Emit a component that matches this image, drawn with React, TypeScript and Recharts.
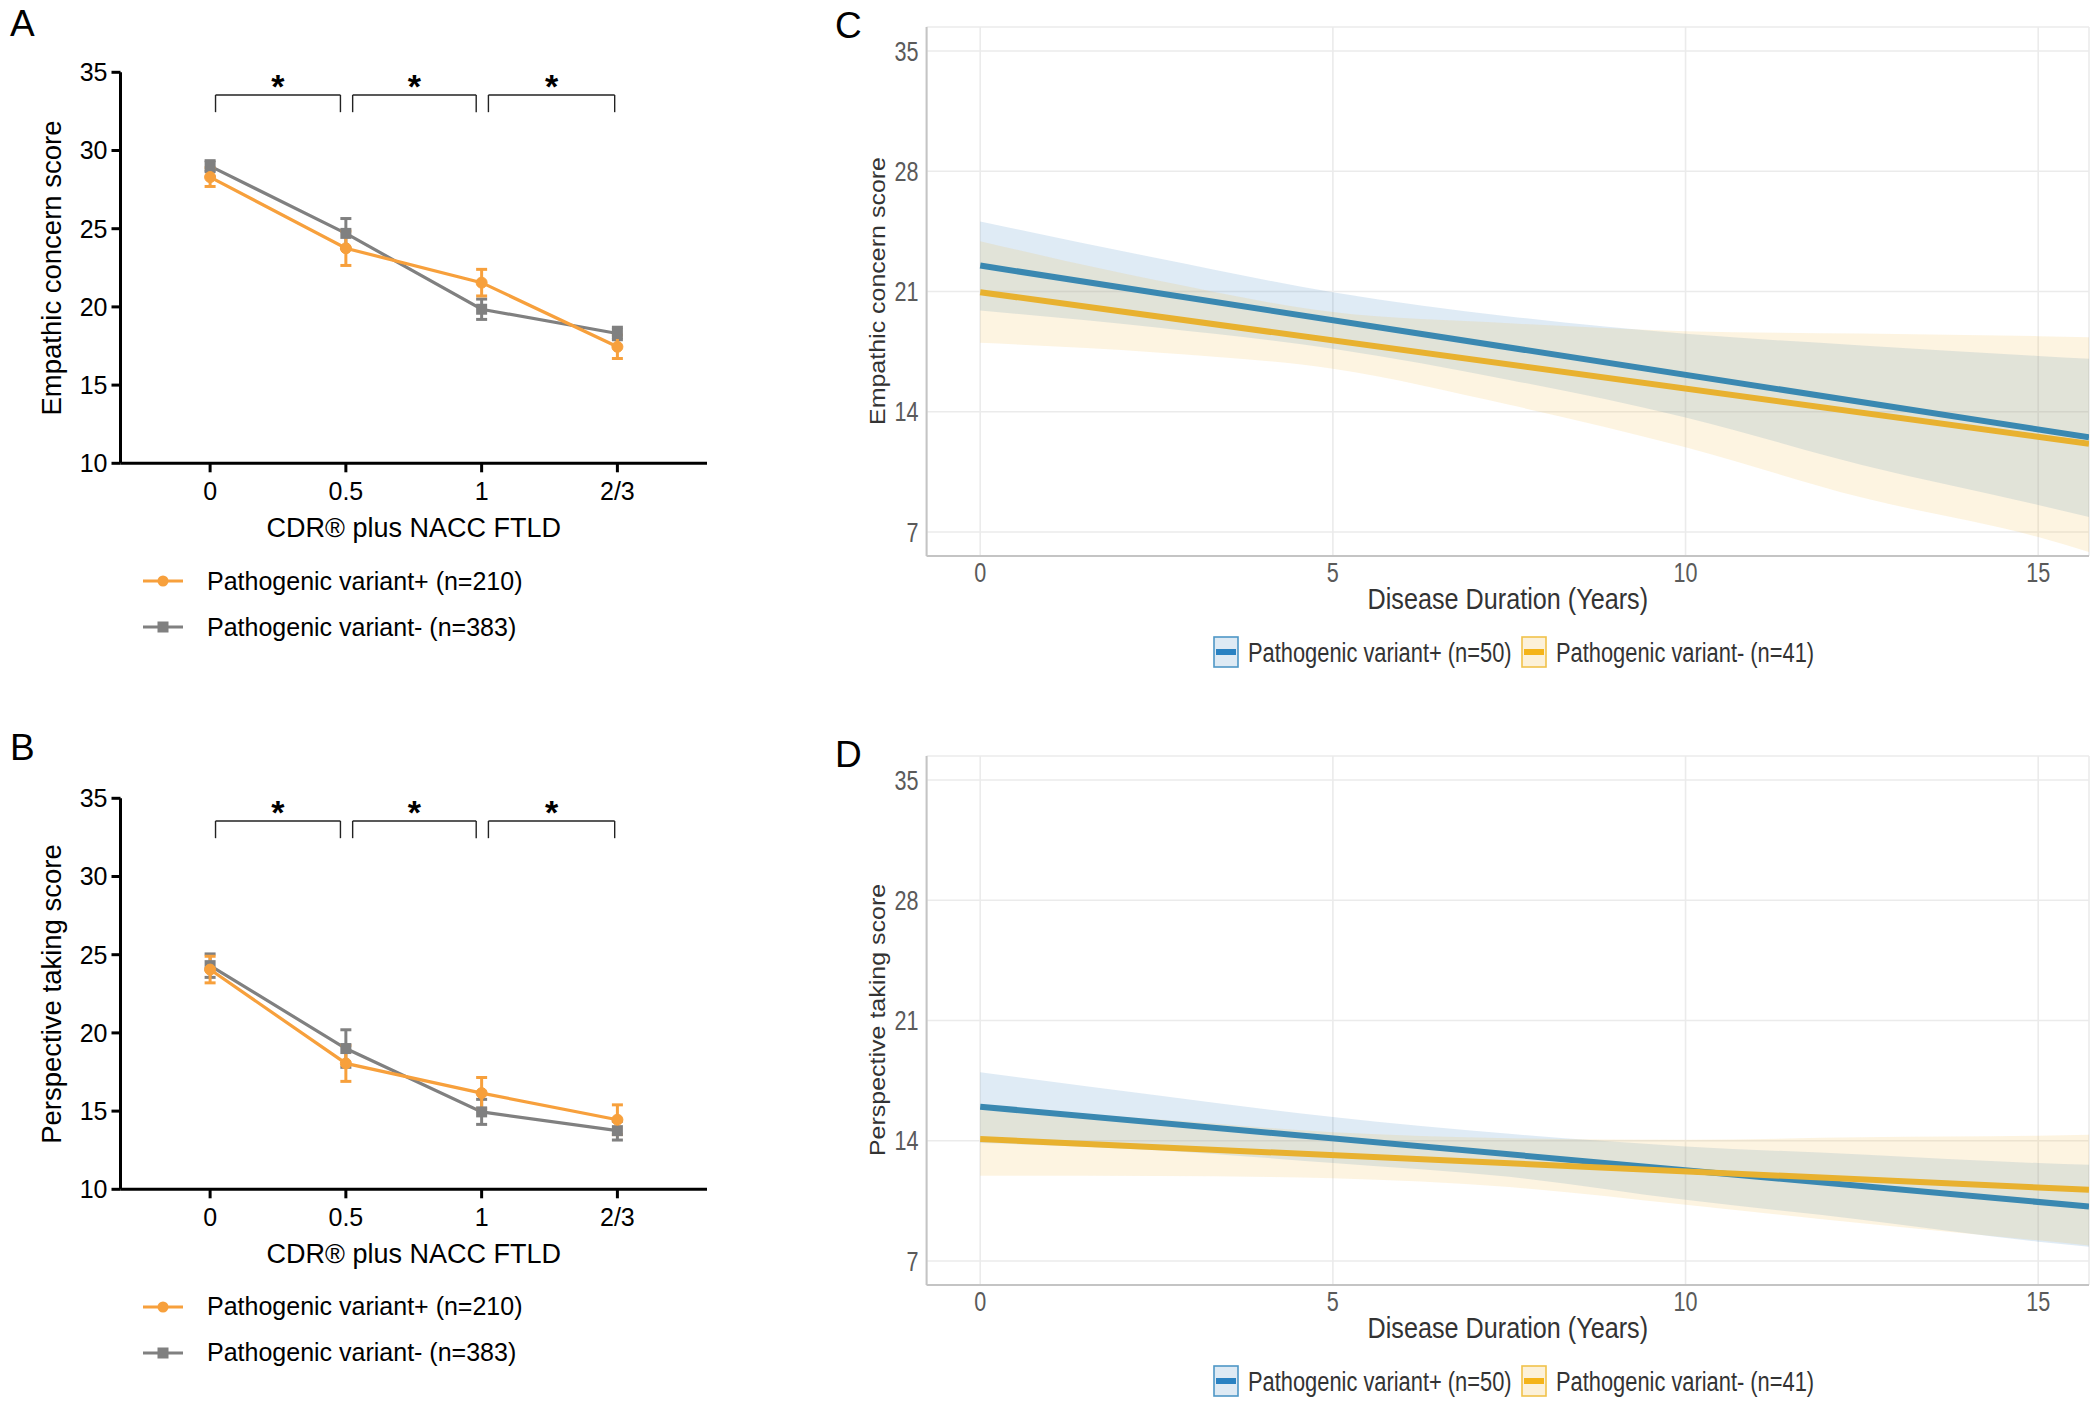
import React from 'react';
import {
  LineChart, Line, XAxis, YAxis, ErrorBar, ReferenceLine, ReferenceDot, Legend,
  ComposedChart, Area, CartesianGrid,
} from 'recharts';

const FONT = "'Liberation Sans', Arial, Helvetica, sans-serif";

// ---------- Panels A & B (CDR plus NACC FTLD) ----------
const cdrCategories = ['0', '0.5', '1', '2/3'];
const cdrTicks = [0, 1, 2, 3];
const leftScoreTicks = [10, 15, 20, 25, 30, 35];

const ecPositive = [28.3, 23.75, 21.55, 17.45];
const ecPositiveErr = [0.6, 1.1, 0.85, 0.75];
const ecNegative = [29.0, 24.7, 19.85, 18.3];
const ecNegativeErr = [0.35, 0.95, 0.65, 0.4];

const ptPositive = [24.05, 18.05, 16.15, 14.45];
const ptPositiveErr = [0.85, 1.15, 1.0, 0.95];
const ptNegative = [24.3, 19.0, 14.95, 13.75];
const ptNegativeErr = [0.75, 1.2, 0.8, 0.6];

const bracketStart = [0.04, 1.05, 2.05];
const bracketEnd = [0.96, 1.96, 2.98];
const bracketTop = 33.55;
const bracketFoot = 32.45;
const starLevel = 34.15;
const starMarks = ['*', '*', '*'];

const legendAB = ['Pathogenic variant+ (n=210)', 'Pathogenic variant- (n=383)'];

// ---------- Panels C & D (Disease duration) ----------
const durationTicks = [0, 5, 10, 15];
const rightScoreTicks = [7, 14, 21, 28, 35];
const fitX = [0, 15.72];
const bandX = [0, 2.5, 5, 7.5, 10, 12.5, 15, 15.72];

const ecFitPos = [22.51, 12.51];
const ecFitNeg = [20.96, 12.13];
const ecBandPosLow = [19.89, 18.9, 17.66, 15.85, 13.67, 10.9, 8.57, 7.87];
const ecBandPosHigh = [25.08, 22.95, 20.96, 19.55, 18.54, 17.86, 17.25, 17.08];
const ecBandNegLow = [18.01, 17.45, 16.5, 14.4, 11.93, 9.0, 6.7, 5.83];
const ecBandNegHigh = [23.93, 21.65, 19.8, 19.15, 18.69, 18.55, 18.4, 18.34];

const ptFitPos = [15.98, 10.17];
const ptFitNeg = [14.1, 11.14];
const ptBandPosLow = [13.87, 13.45, 12.7, 11.9, 10.56, 9.4, 8.12, 7.83];
const ptBandPosHigh = [17.98, 16.65, 15.38, 14.4, 13.67, 13.2, 12.7, 12.6];
const ptBandNegLow = [11.96, 11.95, 11.82, 11.3, 10.27, 9.2, 8.2, 7.9];
const ptBandNegHigh = [15.9, 15.25, 14.5, 14.15, 14.06, 14.2, 14.29, 14.35];

const legendCD = ['Pathogenic variant+ (n=50)', 'Pathogenic variant- (n=41)'];

// ---------- colours ----------
const ORANGE = '#F7A03C';
const GREY = '#808080';
const BLUE_LINE = '#3A88B1';
const GOLD_LINE = '#E8B12F';
const BLUE_FILL = '#2A7ABC';
const GOLD_FILL = '#F2B637';

// ---------- table builders ----------
function cdrRows(pos: number[], posErr: number[], neg: number[], negErr: number[]) {
  return cdrCategories.map((c, i) => ({
    x: i, cat: c, pos: pos[i], posErr: posErr[i], neg: neg[i], negErr: negErr[i],
  }));
}

function durationRows(
  posFit: number[], negFit: number[],
  posLo: number[], posHi: number[], negLo: number[], negHi: number[],
) {
  return bandX.map((x, i) => {
    const f = fitX.indexOf(x);
    return {
      x,
      posBand: [posLo[i], posHi[i]],
      negBand: [negLo[i], negHi[i]],
      posFit: f >= 0 ? posFit[f] : null,
      negFit: f >= 0 ? negFit[f] : null,
    };
  });
}

const ecRows = cdrRows(ecPositive, ecPositiveErr, ecNegative, ecNegativeErr);
const ptRows = cdrRows(ptPositive, ptPositiveErr, ptNegative, ptNegativeErr);
const ecDurRows = durationRows(ecFitPos, ecFitNeg, ecBandPosLow, ecBandPosHigh, ecBandNegLow, ecBandNegHigh);
const ptDurRows = durationRows(ptFitPos, ptFitNeg, ptBandPosLow, ptBandPosHigh, ptBandNegLow, ptBandNegHigh);

// ---------- small renderers ----------
const SquareDot = (p: any) => {
  if (p.cx == null || p.cy == null) return <g key={`sq-${p.index}`} />;
  return <rect key={`sq-${p.index}`} x={p.cx - 5.5} y={p.cy - 5.5} width={11} height={11} fill={GREY} />;
};

const ABLegend = () => (
  <div style={{ width: 520, fontFamily: FONT }}>
    {legendAB.map((name, i) => (
      <div key={name} style={{ display: 'flex', alignItems: 'center', height: 46 }}>
        <svg width={40} height={20} style={{ display: 'block' }}>
          <line x1={0} y1={10} x2={40} y2={10} stroke={i === 0 ? ORANGE : GREY} strokeWidth={3.2} />
          {i === 0
            ? <circle cx={20} cy={10} r={5.5} fill={ORANGE} />
            : <rect x={14.5} y={4.5} width={11} height={11} fill={GREY} />}
        </svg>
        <span style={{ marginLeft: 24, fontSize: 25, color: '#000', whiteSpace: 'nowrap' }}>{name}</span>
      </div>
    ))}
  </div>
);

const SQ_TICK = 0.8;
const SQ_LEG = 0.81;

const RightYTick = (props: any) => {
  const { x, y, payload } = props;
  return (
    <text transform={`translate(${x},${y}) scale(${SQ_TICK},1)`} x={0} y={0} textAnchor="end" dy="0.355em"
      fontSize={27} fill="#5a5a5a">{payload.value}</text>
  );
};

const RightXTick = (props: any) => {
  const { x, y, payload } = props;
  return (
    <text transform={`translate(${x},${y}) scale(${SQ_TICK},1)`} x={0} y={0} textAnchor="middle" dy="0.716em"
      fontSize={27} fill="#5a5a5a">{payload.value}</text>
  );
};

const CDLegend = () => {
  const keys = [
    { fill: '#DEEAF4', border: '#4E97C6', line: '#2A82C2', tx: 0 },
    { fill: '#FCF1D9', border: '#F0C24A', line: '#F4B41A', tx: 308 },
  ];
  return (
    <svg width={640} height={40} style={{ display: 'block', overflow: 'visible' }}>
      {keys.map((k, i) => (
        <g key={i}>
          <rect x={k.tx + 1} y={4} width={24} height={30} fill={k.fill} stroke={k.border} strokeWidth={1.6} />
          <line x1={k.tx + 3} y1={19} x2={k.tx + 23} y2={19} stroke={k.line} strokeWidth={6} />
          <text transform={`translate(${k.tx + 35},19) scale(${SQ_LEG},1)`} x={0} y={0} dy="0.355em"
            fontSize={27} fill="#333">{legendCD[i]}</text>
        </g>
      ))}
    </svg>
  );
};

// ---------- panels ----------
function CdrPanel({ rows, yTitle }: { rows: any[]; yTitle: string }) {
  return (
    <LineChart width={720} height={700} data={rows} margin={{ top: 72.3, right: 13, left: 40.5, bottom: 146.7 }}>
      <XAxis
        type="number" dataKey="x" domain={[-0.66, 3.66]} ticks={cdrTicks} allowDataOverflow
        tickFormatter={(v: number) => cdrCategories[v]} height={90}
        axisLine={{ stroke: '#000', strokeWidth: 3 }} tickLine={{ stroke: '#000', strokeWidth: 3 }}
        tickSize={9} tickMargin={10} tick={{ fontSize: 25, fill: '#000' }}
        label={() => (
          <text x={413.75} y={527.6} textAnchor="middle" dy="0.355em" fontSize={27} fill="#000">
            CDR® plus NACC FTLD
          </text>
        )}
      />
      <YAxis
        type="number" domain={[10, 35]} ticks={leftScoreTicks} allowDataOverflow width={80}
        axisLine={{ stroke: '#000', strokeWidth: 3 }} tickLine={{ stroke: '#000', strokeWidth: 3 }}
        tickSize={9} tickMargin={4} tick={{ fontSize: 25, fill: '#000' }}
        label={() => (
          <text x={51} y={268} transform="rotate(-90 51 268)" textAnchor="middle" dy="0.355em" fontSize={27.5} fill="#000">
            {yTitle}
          </text>
        )}
      />
      {bracketStart.map((s, i) => (
        <ReferenceLine key={`bl${i}`} segment={[{ x: s, y: bracketFoot }, { x: s, y: bracketTop }]} stroke="#222" strokeWidth={1.4} />
      ))}
      {bracketStart.map((s, i) => (
        <ReferenceLine key={`bt${i}`} segment={[{ x: s, y: bracketTop }, { x: bracketEnd[i], y: bracketTop }]} stroke="#222" strokeWidth={1.4} />
      ))}
      {bracketEnd.map((e, i) => (
        <ReferenceLine key={`br${i}`} segment={[{ x: e, y: bracketTop }, { x: e, y: bracketFoot }]} stroke="#222" strokeWidth={1.4} />
      ))}
      {starMarks.map((m, i) => (
        <ReferenceDot key={`st${i}`} x={(bracketStart[i] + bracketEnd[i]) / 2} y={starLevel} r={0}
          fill="none" stroke="none"
          label={{ value: m, position: 'center', fontSize: 34, fontWeight: 700, fill: '#000' }} />
      ))}
      <Line dataKey="neg" stroke={GREY} strokeWidth={3.2} dot={SquareDot} activeDot={false} isAnimationActive={false}>
        <ErrorBar dataKey="negErr" width={5.5} strokeWidth={3} stroke={GREY} direction="y" />
      </Line>
      <Line dataKey="pos" stroke={ORANGE} strokeWidth={3.2}
        dot={{ r: 5.5, fill: ORANGE, stroke: ORANGE, strokeWidth: 1 }} activeDot={false} isAnimationActive={false}>
        <ErrorBar dataKey="posErr" width={5.5} strokeWidth={3} stroke={ORANGE} direction="y" />
      </Line>
      <Legend verticalAlign="bottom" align="center" layout="horizontal"
        wrapperStyle={{ position: 'absolute', top: 558, left: 143, bottom: 'auto', width: 520, height: 0, overflow: 'visible' }}
        content={() => <ABLegend />} />
    </LineChart>
  );
}

function DurationPanel({ rows, yTitle }: { rows: any[]; yTitle: string }) {
  return (
    <ComposedChart width={1260} height={700} data={rows} margin={{ top: 27, right: 11, left: 26.6, bottom: 74 }}>
      <CartesianGrid stroke="#EBEBEB" strokeWidth={1.6} />
      <XAxis
        type="number" dataKey="x" domain={[-0.76, 15.72]} ticks={durationTicks} allowDataOverflow height={70}
        axisLine={{ stroke: '#C4C4C4', strokeWidth: 2 }} tickLine={false} tickSize={0} tickMargin={7}
        tick={RightXTick}
        label={() => (
          <text transform="translate(667.8,598.5) scale(0.84,1)" x={0} y={0} textAnchor="middle" dy="0.355em"
            fontSize={30} fill="#333">Disease Duration (Years)</text>
        )}
      />
      <YAxis
        type="number" domain={[5.6, 36.4]} ticks={rightScoreTicks} allowDataOverflow width={60}
        axisLine={{ stroke: '#C4C4C4', strokeWidth: 2 }} tickLine={false} tickSize={0} tickMargin={8}
        tick={RightYTick}
        label={() => (
          <text transform="translate(37,291) scale(0.85,1) rotate(-90)" x={0} y={0} textAnchor="middle" dy="0.355em"
            fontSize={25} fill="#333">{yTitle}</text>
        )}
      />
      <Area dataKey="posBand" type="monotone" stroke="none" fill={BLUE_FILL} fillOpacity={0.15}
        dot={false} activeDot={false} isAnimationActive={false} />
      <Area dataKey="negBand" type="monotone" stroke="none" fill={GOLD_FILL} fillOpacity={0.15}
        dot={false} activeDot={false} isAnimationActive={false} />
      <Line dataKey="posFit" stroke={BLUE_LINE} strokeWidth={6} dot={false} activeDot={false} connectNulls isAnimationActive={false} />
      <Line dataKey="negFit" stroke={GOLD_LINE} strokeWidth={6} dot={false} activeDot={false} connectNulls isAnimationActive={false} />
      <Legend verticalAlign="bottom" align="center" layout="horizontal"
        wrapperStyle={{ position: 'absolute', top: 633, left: 373, bottom: 'auto', width: 640, height: 0, overflow: 'visible' }}
        content={() => <CDLegend />} />
    </ComposedChart>
  );
}

export default function App() {
  return (
    <div style={{ position: 'absolute', left: 0, top: 0, width: 2100, height: 1411, background: '#fff', fontFamily: FONT, overflow: 'hidden' }}>
      <div style={{ position: 'absolute', left: 0, top: 0 }}>
        <CdrPanel rows={ecRows} yTitle="Empathic concern score" />
      </div>
      <div style={{ position: 'absolute', left: 0, top: 725.7 }}>
        <CdrPanel rows={ptRows} yTitle="Perspective taking score" />
      </div>
      <div style={{ position: 'absolute', left: 840, top: 0 }}>
        <DurationPanel rows={ecDurRows} yTitle="Empathic concern score" />
      </div>
      <div style={{ position: 'absolute', left: 840, top: 729 }}>
        <DurationPanel rows={ptDurRows} yTitle="Perspective taking score" />
      </div>
      <svg width={2100} height={1411} style={{ position: 'absolute', left: 0, top: 0, pointerEvents: 'none' }}>
        <text x={10} y={36} fontSize={37} fill="#000">A</text>
        <text x={10} y={760} fontSize={37} fill="#000">B</text>
        <text x={835} y={38} fontSize={37} fill="#000">C</text>
        <text x={835} y={767} fontSize={37} fill="#000">D</text>
      </svg>
    </div>
  );
}
